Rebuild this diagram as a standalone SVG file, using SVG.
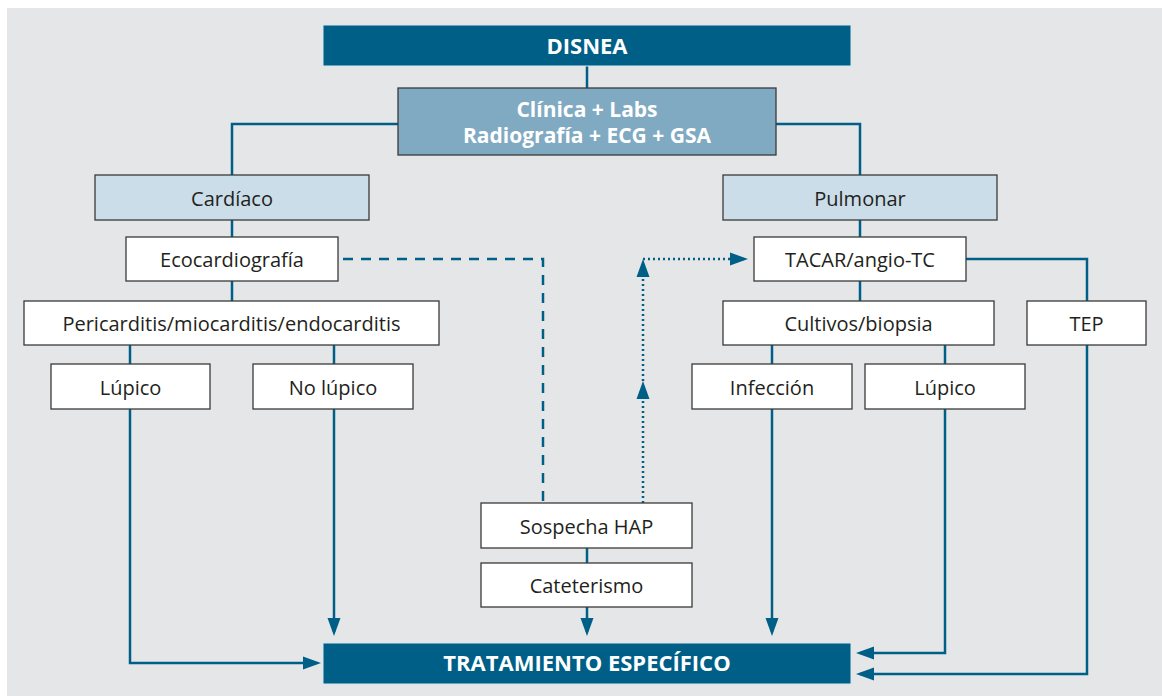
<svg xmlns="http://www.w3.org/2000/svg" width="1162" height="696" viewBox="0 0 1162 696">
<style>
.box{fill:#ffffff;stroke:#3a3a3a;stroke-width:1.3}
.lt{fill:#cadde8;stroke:#3a3a3a;stroke-width:1.3}
.mid{fill:#80aac2;stroke:#3a3a3a;stroke-width:1.3}
.dark{fill:#005f87;stroke:#d8e8f0;stroke-width:1}
.t{font-family:"Open Sans","Liberation Sans",sans-serif;font-size:20px;fill:#231f20;text-anchor:middle}
.tb{font-family:"Open Sans","Liberation Sans",sans-serif;font-size:22px;font-weight:bold;fill:#ffffff;text-anchor:middle}
.tm{font-size:21px}
.c{fill:none;stroke:#005f87;stroke-width:2.5}
.dash{stroke-dasharray:10 8}
.dot{stroke-dasharray:2 3}
</style>
<defs>
<marker id="ah" markerUnits="userSpaceOnUse" markerWidth="18" markerHeight="14" refX="14" refY="7" orient="auto">
<path d="M0,0.5 L18,7 L0,13.5 z" fill="#005f87"/>
</marker>
</defs>
<rect x="7" y="8" width="1155" height="688" fill="#e5e6e8"/>
<g id="connectors">
<path class="c" d="M587,66 V88"/>
<path class="c" d="M398,124 H232 V175"/>
<path class="c" d="M776,124 H860 V175"/>
<path class="c" d="M232,220 V237"/>
<path class="c" d="M232,281 V301"/>
<path class="c" d="M130,345 V364"/>
<path class="c" d="M334,345 V364"/>
<path class="c" d="M860,220 V237"/>
<path class="c" d="M860,281 V301"/>
<path class="c" d="M966,259 H1087 V301"/>
<path class="c" d="M772,345 V364"/>
<path class="c" d="M945,345 V364"/>
<path class="c" d="M587,548 V563"/>
<path class="c" d="M130,409 V663 H317" marker-end="url(#ah)"/>
<path class="c" d="M334,409 V632" marker-end="url(#ah)"/>
<path class="c" d="M587,607 V632" marker-end="url(#ah)"/>
<path class="c" d="M772,409 V632" marker-end="url(#ah)"/>
<path class="c" d="M945,409 V653 H860" marker-end="url(#ah)"/>
<path class="c" d="M1087,345 V674 H860" marker-end="url(#ah)"/>
<path class="c dash" d="M343,259 H543 V503"/>
<path class="c dot" d="M643,503 V385" marker-end="url(#ah)"/>
<path class="c dot" d="M643,381 V263" marker-end="url(#ah)"/>
<path class="c dot" d="M643,259 H744" marker-end="url(#ah)"/>
</g>
<g id="disnea"><rect class="dark" x="323" y="25" width="528" height="41"/><text class="tb" x="587" y="54">DISNEA</text></g>
<g id="clinica"><rect class="mid" x="398" y="88" width="378" height="67"/><text class="tb tm" x="587" y="117">Clínica + Labs</text><text class="tb tm" x="587" y="143">Radiografía + ECG + GSA</text></g>
<g id="cardiaco"><rect class="lt" x="95" y="175" width="274" height="45"/><text class="t" x="232" y="206">Cardíaco</text></g>
<g id="pulmonar"><rect class="lt" x="723" y="175" width="274" height="45"/><text class="t" x="860" y="206">Pulmonar</text></g>
<g id="eco"><rect class="box" x="126" y="237" width="212" height="44"/><text class="t" x="232" y="267">Ecocardiografía</text></g>
<g id="tacar"><rect class="box" x="754" y="237" width="212" height="44"/><text class="t" x="860" y="267">TACAR/angio-TC</text></g>
<g id="pericarditis"><rect class="box" x="24" y="301" width="415" height="44"/><text class="t" x="231.5" y="331">Pericarditis/miocarditis/endocarditis</text></g>
<g id="cultivos"><rect class="box" x="723" y="301" width="271" height="44"/><text class="t" x="858.5" y="331">Cultivos/biopsia</text></g>
<g id="tep"><rect class="box" x="1027" y="301" width="119" height="44"/><text class="t" x="1086.5" y="331">TEP</text></g>
<g id="lupico-c"><rect class="box" x="51" y="364" width="159" height="45"/><text class="t" x="130.5" y="395">Lúpico</text></g>
<g id="nolupico"><rect class="box" x="253" y="364" width="160" height="45"/><text class="t" x="333" y="395">No lúpico</text></g>
<g id="infeccion"><rect class="box" x="692" y="364" width="160" height="45"/><text class="t" x="772" y="395">Infección</text></g>
<g id="lupico-p"><rect class="box" x="865" y="364" width="160" height="45"/><text class="t" x="945" y="395">Lúpico</text></g>
<g id="sospecha"><rect class="box" x="481" y="503" width="211" height="45"/><text class="t" x="586.5" y="534">Sospecha HAP</text></g>
<g id="cateterismo"><rect class="box" x="481" y="563" width="211" height="44"/><text class="t" x="586.5" y="593">Cateterismo</text></g>
<g id="tratamiento"><rect class="dark" x="323" y="643" width="528" height="41"/><text class="tb" x="587" y="671">TRATAMIENTO ESPECÍFICO</text></g>
</svg>
